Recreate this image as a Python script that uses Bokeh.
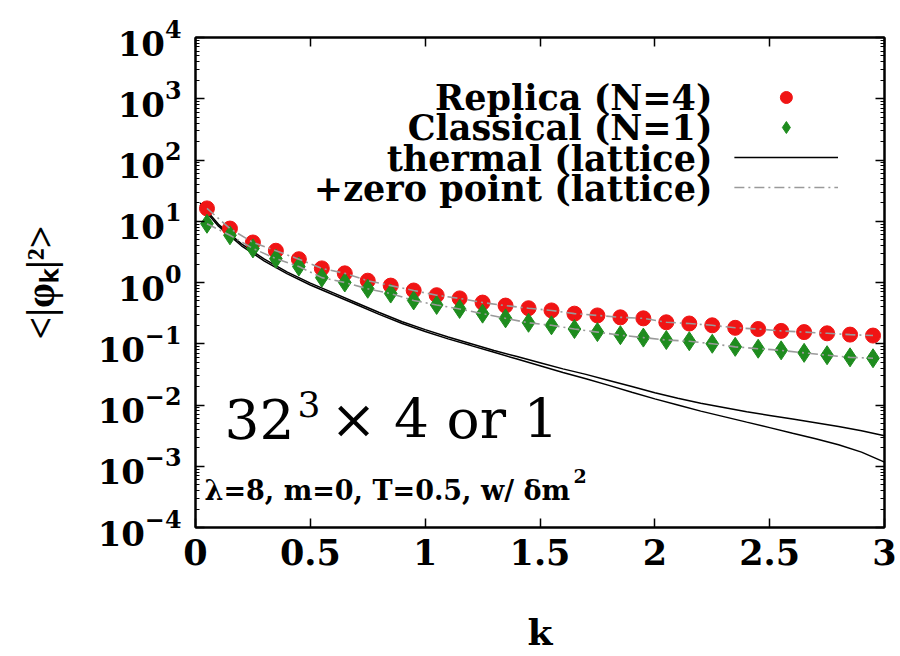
import math
from bokeh.plotting import figure
from bokeh.models import (Range1d, FixedTicker, LogTicker, LinearAxis, LogAxis,
                          Label, Legend, LegendItem)
from bokeh.embed import file_html
from bokeh.resources import INLINE

# ---------------- data ----------------
k_data = [0.05, 0.15, 0.25, 0.35, 0.45, 0.55, 0.65, 0.75, 0.85, 0.95,
          1.05, 1.15, 1.25, 1.35, 1.45, 1.55, 1.65, 1.75, 1.85, 1.95,
          2.05, 2.15, 2.25, 2.35, 2.45, 2.55, 2.65, 2.75, 2.85, 2.95]
replica_n4 = [16.2, 7.6, 4.5, 3.3, 2.4, 1.7, 1.41, 1.07, 0.89, 0.74,
              0.62, 0.55, 0.47, 0.42, 0.38, 0.35, 0.31, 0.29, 0.27, 0.26,
              0.224, 0.214, 0.200, 0.182, 0.174, 0.162, 0.155, 0.148, 0.141, 0.136]
classical_n1 = [9.1, 5.9, 3.6, 2.45, 1.82, 1.2, 1.0, 0.79, 0.66, 0.51,
                0.43, 0.37, 0.31, 0.26, 0.22, 0.20, 0.174, 0.155, 0.138, 0.126,
                0.115, 0.110, 0.100, 0.089, 0.083, 0.078, 0.071, 0.065, 0.060, 0.058]

k_curve = [0.02, 0.1, 0.2, 0.3, 0.4, 0.5, 0.6, 0.7, 0.8, 0.9,
           1.0, 1.1, 1.2, 1.3, 1.4, 1.5, 1.6, 1.7, 1.8, 1.9,
           2.0, 2.1, 2.2, 2.3, 2.4, 2.5, 2.6, 2.7, 2.8, 2.9, 3.0]
thermal_upper = [19.95, 8.91, 4.27, 2.40, 1.48, 0.977, 0.676, 0.468, 0.324, 0.229,
                 0.170, 0.129, 0.100, 0.0776, 0.0617, 0.0490, 0.0389, 0.0316, 0.0251, 0.0200,
                 0.0158, 0.0129, 0.0107, 0.00912, 0.00776, 0.00676, 0.00589, 0.00513, 0.00447,
                 0.00380, 0.00316]
thermal_lower = [18.6, 8.32, 3.98, 2.24, 1.38, 0.912, 0.631, 0.437, 0.302, 0.214,
                 0.158, 0.120, 0.0933, 0.0724, 0.0562, 0.0437, 0.0339, 0.0269, 0.0209, 0.0162,
                 0.0126, 0.0100, 0.00794, 0.00646, 0.00525, 0.00427, 0.00347, 0.00282, 0.00224,
                 0.00170, 0.00117]

x_ticks = [0, 0.5, 1, 1.5, 2, 2.5, 3]
x_tick_labels = ["0", "0.5", "1", "1.5", "2", "2.5", "3"]
x_min, x_max = 0, 3
y_min, y_max = 1e-4, 1e4

legend_labels = ["Replica (N=4)", "Classical (N=1)", "thermal (lattice)", "+zero point (lattice)"]

# ---------------- layout (page pixels of the frame) ----------------
L, T, R, B = 195, 37, 884, 527

def xd(px):
    """page x pixel -> data x"""
    return x_min + (px - L) * (x_max - x_min) / (R - L)

def yd(py):
    """page y pixel -> data y (log axis)"""
    lo, hi = math.log10(y_min), math.log10(y_max)
    return 10 ** (hi - (py - T) * (hi - lo) / (B - T))

BOLD = "DejaVu Serif"
TIMES = "Liberation Serif"

p = figure(frame_width=R - L, frame_height=B - T,
           min_border_left=L, min_border_top=T,
           min_border_right=14, min_border_bottom=100,
           x_range=Range1d(x_min, x_max), y_range=Range1d(y_min, y_max),
           y_axis_type="log", output_backend="svg", toolbar_location=None,
           background_fill_color="white", border_fill_color="white")
p.grid.visible = False
p.outline_line_color = "black"
p.outline_line_width = 2

# bottom x axis
xa = p.xaxis[0]
xa.ticker = FixedTicker(ticks=x_ticks)
xa.major_label_overrides = {t: s for t, s in zip(x_ticks, x_tick_labels)}
xa.major_tick_in = 9
xa.major_tick_out = 0
xa.minor_tick_line_color = None
xa.major_tick_line_width = 1.5
xa.axis_line_width = 2
xa.major_label_text_font = BOLD
xa.major_label_text_font_style = "bold"
xa.major_label_text_font_size = "35px"
xa.major_label_text_color = "black"
xa.major_label_standoff = 11
xa.axis_label = "k"
xa.axis_label_text_font = BOLD
xa.axis_label_text_font_style = "bold"
xa.axis_label_text_font_size = "36px"
xa.axis_label_text_color = "black"
xa.axis_label_standoff = 43

# left y axis
ya = p.yaxis[0]
ya.ticker = LogTicker(num_minor_ticks=10)
ya.major_tick_in = 9
ya.major_tick_out = 0
ya.minor_tick_in = 4
ya.minor_tick_out = 0
ya.major_tick_line_width = 1.5
ya.axis_line_width = 2
ya.major_label_text_font = BOLD
ya.major_label_text_font_style = "bold"
ya.major_label_text_font_size = "34px"
ya.major_label_text_color = "black"
ya.major_label_standoff = 14
ya.axis_label = "<|φₖ|²>"
ya.axis_label_text_font = TIMES
ya.axis_label_text_font_style = "bold"
ya.axis_label_text_font_size = "40px"
ya.axis_label_text_color = "black"
ya.axis_label_standoff = 32

# mirror axes (ticks only)
top = LinearAxis(ticker=FixedTicker(ticks=x_ticks), major_tick_in=9, major_tick_out=0,
                 minor_tick_line_color=None, major_label_text_font_size="2px",
                 major_label_text_alpha=0, major_label_standoff=0,
                 axis_line_width=2, major_tick_line_width=1.5)
p.add_layout(top, "above")
right = LogAxis(ticker=LogTicker(num_minor_ticks=10), major_tick_in=9, major_tick_out=0,
                minor_tick_in=4, minor_tick_out=0, major_label_text_font_size="2px",
                major_label_text_alpha=0, major_label_standoff=0,
                axis_line_width=2, major_tick_line_width=1.5)
p.add_layout(right, "right")

# ---------------- glyphs ----------------
r_th1 = p.line(k_curve, thermal_upper, line_color="black", line_width=1.5)
r_th2 = p.line(k_curve, thermal_lower, line_color="black", line_width=1.5)

r_red = p.scatter(k_data, replica_n4, marker="circle", size=15,
                  fill_color="#f01414", line_color="#f01414")
r_grn = p.scatter(k_data, classical_n1, marker="diamond", size=19,
                  fill_color="#1e8c1e", line_color="#1e8c1e")

r_zp1 = p.line(k_data, replica_n4, line_color="#9a9a9a", line_width=1.6, line_dash="10 4 2 4")
r_zp2 = p.line(k_data, classical_n1, line_color="#9a9a9a", line_width=1.6, line_dash="10 4 2 4")

# ---------------- legend (glyphs right of the texts) ----------------
legend = Legend(items=[LegendItem(label="a", renderers=[r_red]),
                       LegendItem(label="b", renderers=[r_grn]),
                       LegendItem(label="c", renderers=[r_th1]),
                       LegendItem(label="d", renderers=[r_zp1])],
                location="top_right", orientation="vertical",
                glyph_width=104, glyph_height=30, label_height=30, label_width=0,
                label_standoff=0, spacing=0, padding=0, margin=45,
                label_text_font_size="2px", label_text_alpha=0,
                background_fill_alpha=0, border_line_alpha=0)
p.add_layout(legend, "center")

row_y = [97, 127, 158, 188]
for txt, yy in zip(legend_labels, row_y):
    p.add_layout(Label(x=xd(712), y=yd(yy), text=txt, text_align="right",
                       text_baseline="middle", text_font=BOLD, text_font_style="bold",
                       text_font_size="35px", text_color="black"))

# ---------------- annotations ----------------
p.add_layout(Label(x=xd(224), y=yd(418), text="32", text_align="left",
                   text_baseline="middle", text_font="DejaVu Serif",
                   text_font_size="55px", text_color="black"))
p.add_layout(Label(x=xd(297), y=yd(403), text="3", text_align="left",
                   text_baseline="middle", text_font="DejaVu Serif",
                   text_font_size="36px", text_color="black"))
p.add_layout(Label(x=xd(330), y=yd(418), text="× 4 or 1", text_align="left",
                   text_baseline="middle", text_font="DejaVu Serif",
                   text_font_size="55px", text_color="black"))

p.add_layout(Label(x=xd(204), y=yd(490), text="λ=8, m=0, T=0.5, w/ δm", text_align="left",
                   text_baseline="middle", text_font=BOLD, text_font_style="bold",
                   text_font_size="27px", text_color="black"))
p.add_layout(Label(x=xd(573), y=yd(475), text="2", text_align="left",
                   text_baseline="middle", text_font=BOLD, text_font_style="bold",
                   text_font_size="19px", text_color="black"))

open("out.html", "w").write(file_html(p, INLINE))
